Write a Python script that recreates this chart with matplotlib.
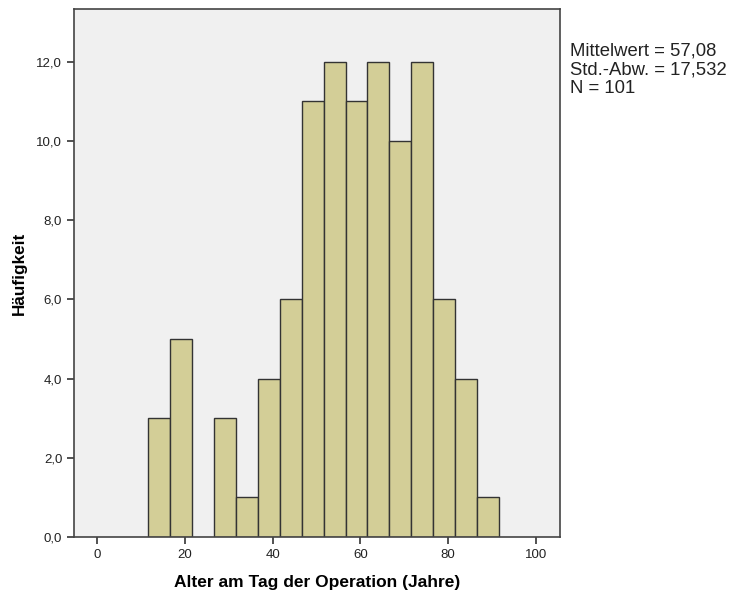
import numpy as np
import matplotlib.pyplot as plt

plt.rcParams['font.family'] = ['Liberation Sans', 'DejaVu Sans']

# histogram bins (Alter, width 5) and counts
bin_edges = [11.6, 16.6, 21.6, 26.6, 31.6, 36.6, 41.6, 46.6, 51.6,
             56.6, 61.6, 66.6, 71.6, 76.6, 81.6, 86.6, 91.6]
counts = [3, 5, 0, 3, 1, 4, 6, 11, 12, 11, 12, 10, 12, 6, 4, 1]
x_ticks = [0, 20, 40, 60, 80, 100]
y_ticks = [0, 2, 4, 6, 8, 10, 12]
stats_text = "Mittelwert = 57,08\nStd.-Abw. = 17,532\nN = 101"

fig = plt.figure(figsize=(7.35, 5.93), dpi=100)
ax = fig.add_axes([0.1007, 0.0944, 0.6612, 0.8904])
ax.set_facecolor('#F0F0F0')

lefts = np.array(bin_edges[:-1])
widths = np.diff(bin_edges)
for l, w, c in zip(lefts, widths, counts):
    if c > 0:
        ax.bar(l, c, width=w, align='edge', color='#D3CE97',
               edgecolor='#333333', linewidth=1.0)

ax.set_xlim(-5.3, 105.5)
ax.set_ylim(0, 13.33)
ax.set_xticks(x_ticks)
ax.set_xticklabels([str(t) for t in x_ticks])
ax.set_yticks(y_ticks)
ax.set_yticklabels([f"{t:.1f}".replace('.', ',') for t in y_ticks])
ax.tick_params(axis='both', direction='out', length=5, width=1.2,
               color='#333333', labelsize=9.5, labelcolor='#222222')

for s in ax.spines.values():
    s.set_color('#444444')
    s.set_linewidth(1.2)

ax.set_xlabel('Alter am Tag der Operation (Jahre)', fontsize=12.5,
              fontweight='bold', labelpad=10)
ax.set_ylabel('Häufigkeit', fontsize=12.3, fontweight='bold', labelpad=7)

fig.text(570 / 735, 1 - 42 / 593, stats_text, fontsize=13.3,
         va='top', ha='left', color='#222222', linespacing=1.16)

fig.savefig('out.png', dpi=100)
